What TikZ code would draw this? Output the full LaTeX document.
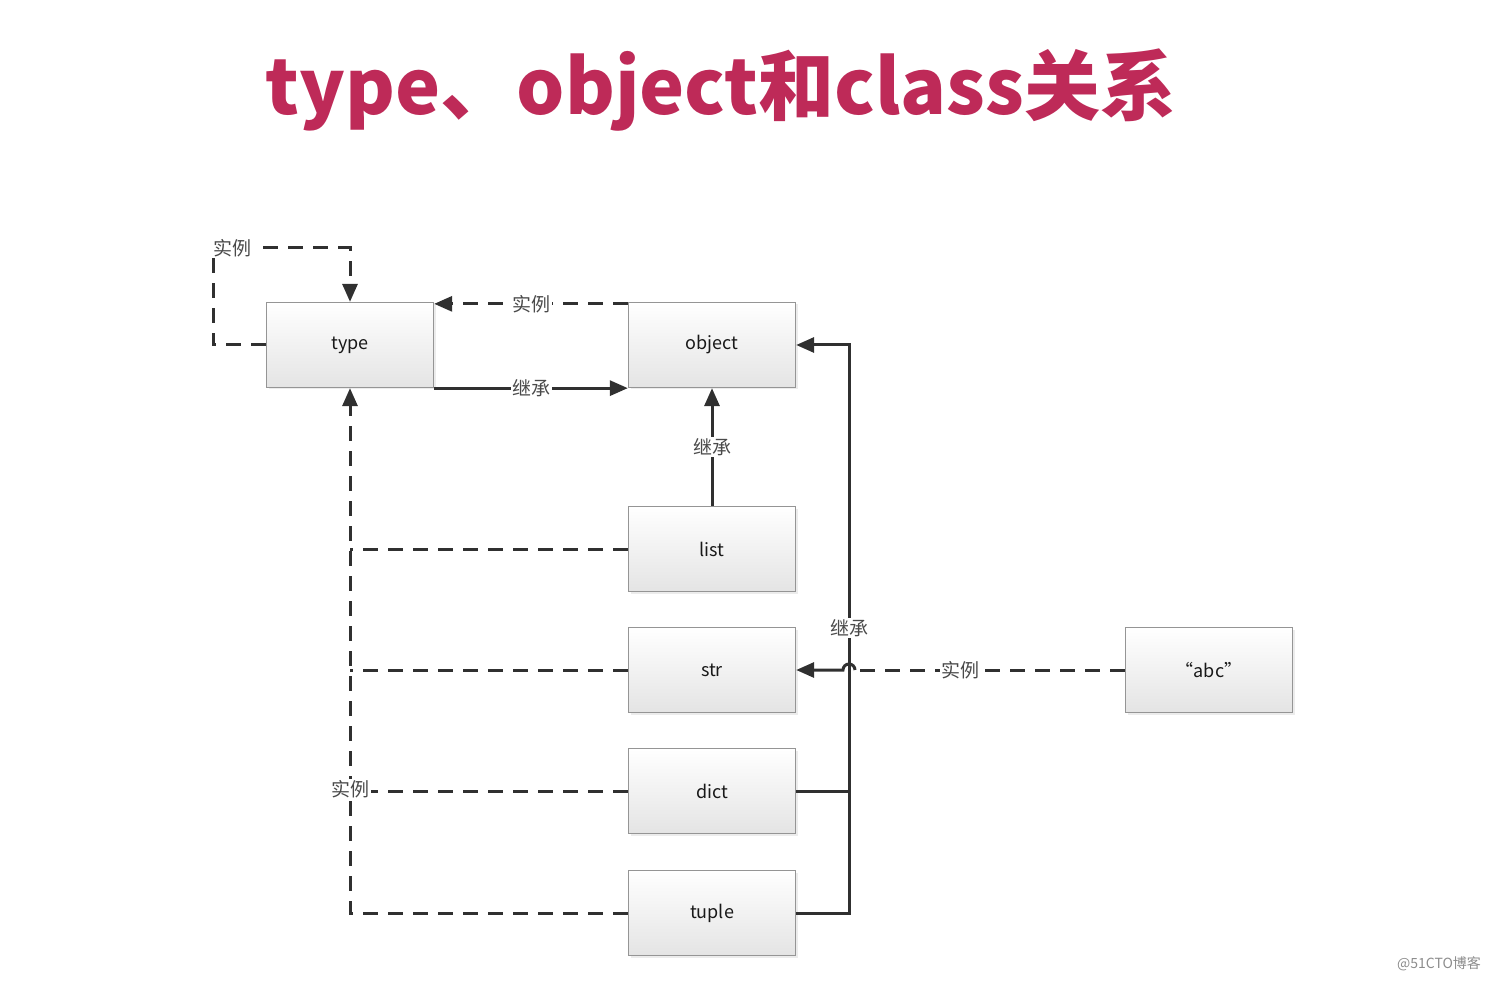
\documentclass[tikz,border=0pt]{standalone}
\usepackage{fontspec}
\setmainfont{Noto Sans CJK SC}
\usetikzlibrary{arrows.meta, positioning, shadows}
\definecolor{headline}{HTML}{BE2A58}
\definecolor{ink}     {HTML}{303030}
\definecolor{muted}   {HTML}{4A4A4A}
\definecolor{boxline} {HTML}{959595}
\definecolor{boxfill} {HTML}{E4E4E4}

\tikzset{
  cls/.style={draw=boxline, line width=1.3pt, minimum width=167pt, minimum height=85pt,
    top color=white, bottom color=boxfill, text=black!90,
    font=\fontsize{18}{22}\selectfont,
    drop shadow={opacity=0.15, shadow xshift=2pt, shadow yshift=-2pt}},
  inst/.style={draw=ink, line width=3pt, dash pattern=on 15pt off 10pt},
  inherit/.style={draw=ink, line width=3pt},
  arrowed/.style={-{Triangle[length=18pt, width=15pt]}},
  tag/.style={fill=white, text=muted, inner sep=1.5pt, font=\fontsize{19}{22}\selectfont}
}

\begin{document}
\begin{tikzpicture}[x=1pt, y=-1pt]
  \useasboundingbox (0,0) rectangle (1492,981);

  \node[anchor=base, text=headline, font=\fontsize{76}{84}\selectfont\bfseries] (heading)
    at (721,115) {type、object和class关系};

  % classes
  \node[cls] (type)   at (350,345)  {type};
  \node[cls] (object) at (712,345)  {object};
  \node[cls] (list)   at (712,549)  {list};
  \node[cls] (str)    at (712,670)  {str};
  \node[cls] (dict)   at (712,791)  {dict};
  \node[cls] (tuple)  at (712,913)  {tuple};
  \node[cls] (abc)    at (1209,670) {“abc”};

  % type is an instance of itself
  \coordinate (loop) at (213,248);
  \draw[inst, arrowed] (type.west) -| (loop) -| (type.north);
  \node[tag] (loopTag) at (232,248) {实例};

  % type <-> object
  \draw[inst, arrowed] ([yshift=-2pt]object.north west) -- node[tag] (objTag) {实例}
    ([yshift=-2pt]type.north east);
  \draw[inherit, arrowed] (type.south east) -- node[tag] (typeTag) {继承} (object.south west);
  \draw[inherit, arrowed] (list.north) -- node[tag] (listTag) {继承} (object.south);

  % builtins are instances of type
  \coordinate (leftRail) at (type.south |- tuple.west);
  \draw[inst, arrowed] (tuple.west) -- (leftRail) -- (type.south);
  \foreach \c in {list, str, dict}
    \draw[inst] (\c.west) -- (type.south |- \c.west);
  \node[tag] (instTag) at (350,789) {实例};

  % builtins inherit from object
  \coordinate (rightRail) at (849,913);
  \draw[inherit, arrowed] (tuple.east) -- (rightRail) |- (object.east);
  \draw[inherit] (dict.east) -- (dict.east -| rightRail);
  \node[tag] (railTag) at (849,628) {继承};

  % "abc" is an instance of str
  \coordinate (hop) at (855,670);
  \draw[inst] (abc.west) -- (hop);
  \draw[inherit, arrowed] (hop) arc[start angle=0, end angle=180, radius=6pt] -- (str.east);
  \node[tag] (abcTag) at (960,670) {实例};

  \node[text=black!45, font=\fontsize{14}{16}\selectfont] (mark) at (1439,964) {@51CTO博客};
\end{tikzpicture}
\end{document}
